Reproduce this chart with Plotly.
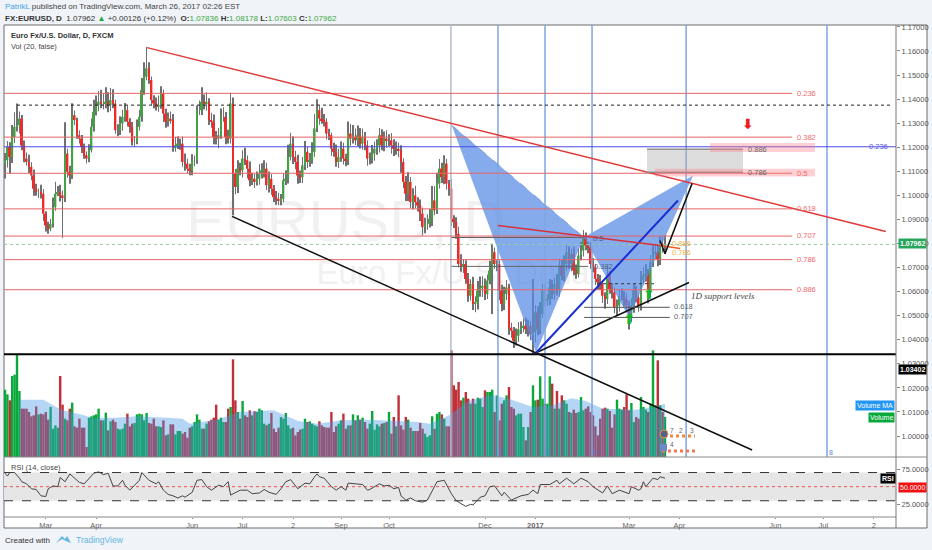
import plotly.graph_objects as go

# price data, one value per daily bar
closes = [
    1.1146, 1.1201, 1.1160, 1.1243, 1.1285, 1.1292, 1.1319, 1.1208, 1.1153, 1.1139,
    1.1118, 1.1083, 1.1028, 1.1014, 1.1014, 1.1007, 1.0924, 1.0875, 1.0861, 1.0882,
    1.0951, 1.1007, 1.1014, 1.1000, 1.0993, 1.1174, 1.1098, 1.1083, 1.1333, 1.1313,
    1.1250, 1.1236, 1.1201, 1.1167, 1.1153, 1.1188, 1.1285, 1.1347, 1.1375, 1.1389,
    1.1382, 1.1382, 1.1389, 1.1375, 1.1396, 1.1382, 1.1271, 1.1271, 1.1299, 1.1326,
    1.1354, 1.1306, 1.1285, 1.1222, 1.1222, 1.1285, 1.1326, 1.1438, 1.1493, 1.1528,
    1.1479, 1.1396, 1.1382, 1.1368, 1.1375, 1.1424, 1.1340, 1.1306, 1.1319, 1.1313,
    1.1201, 1.1208, 1.1215, 1.1215, 1.1139, 1.1132, 1.1111, 1.1104, 1.1146, 1.1146,
    1.1354, 1.1354, 1.1389, 1.1382, 1.1389, 1.1313, 1.1306, 1.1243, 1.1236, 1.1250,
    1.1326, 1.1326, 1.1243, 1.1236, 1.1382, 1.1090, 1.1035, 1.1111, 1.1104, 1.1153,
    1.1146, 1.1111, 1.1063, 1.1069, 1.1056, 1.1069, 1.1090, 1.1104, 1.1111, 1.1042,
    1.1069, 1.1028, 1.0993, 1.0986, 1.0979, 1.0986, 1.1063, 1.1069, 1.1160, 1.1215,
    1.1160, 1.1139, 1.1083, 1.1076, 1.1125, 1.1181, 1.1139, 1.1146, 1.1181, 1.1278,
    1.1354, 1.1319, 1.1313, 1.1306, 1.1257, 1.1250, 1.1194, 1.1181, 1.1139, 1.1160,
    1.1194, 1.1153, 1.1146, 1.1257, 1.1236, 1.1243, 1.1229, 1.1250, 1.1215, 1.1243,
    1.1208, 1.1153, 1.1153, 1.1174, 1.1194, 1.1208, 1.1250, 1.1208, 1.1236, 1.1229,
    1.1229, 1.1208, 1.1194, 1.1194, 1.1188, 1.1139, 1.1056, 1.1007, 1.1056, 1.0972,
    1.1000, 1.0972, 1.0958, 1.0924, 1.0868, 1.0882, 1.0882, 1.0903, 1.0979, 1.0938,
    1.1049, 1.1111, 1.1076, 1.1132, 1.1049, 1.1028, 1.0903, 1.0889, 1.0840, 1.0715,
    1.0708, 1.0715, 1.0653, 1.0583, 1.0632, 1.0549, 1.0556, 1.0604, 1.0618, 1.0625,
    1.0590, 1.0646, 1.0688, 1.0764, 1.0715, 1.0715, 1.0604, 1.0549, 1.0590, 1.0618,
    1.0451, 1.0438, 1.0396, 1.0417, 1.0444, 1.0451, 1.0458, 1.0444, 1.0458, 1.0424,
    1.0431, 1.0514, 1.0444, 1.0507, 1.0604, 1.0563, 1.0569, 1.0618, 1.0590, 1.0632,
    1.0604, 1.0708, 1.0667, 1.0715, 1.0764, 1.0715, 1.0757, 1.0688, 1.0674, 1.0750,
    1.0771, 1.0826, 1.0792, 1.0785, 1.0715, 1.0701, 1.0653, 1.0639, 1.0632, 1.0583,
    1.0569, 1.0667, 1.0611, 1.0597, 1.0535, 1.0542, 1.0583, 1.0583, 1.0569, 1.0542,
    1.0493, 1.0542, 1.0604, 1.0576, 1.0542, 1.0646, 1.0667, 1.0674, 1.0597, 1.0722,
    1.0757, 1.0764, 1.0736, 1.0799, 1.0792, 1.0796,
]
first_open = 1.1130
up_wicks = [
    30, 25, 20, 50, 60, 90, 30, 15, 20, 25, 30, 20, 25, 20, 15, 30, 20, 10, 15, 20,
    40, 50, 25, 30, 20, 130, 20, 25, 50, 20, 10, 20, 15, 15, 15, 25, 35, 50, 40, 45,
    50, 40, 60, 40, 50, 45, 15, 25, 30, 30, 30, 20, 15, 20, 25, 30, 30, 50, 60, 89,
    25, 15, 20, 25, 40, 30, 15, 20, 25, 30, 25, 35, 30, 20, 30, 35, 20, 20, 25, 20,
    20, 40, 60, 30, 40, 15, 30, 30, 25, 30, 35, 40, 20, 30, 45, 25, 20, 35, 25, 35,
    45, 20, 30, 25, 20, 30, 40, 30, 35, 25, 30, 20, 15, 25, 25, 20, 30, 35, 50, 45,
    30, 25, 30, 20, 35, 45, 20, 30, 40, 60, 45, 20, 45, 25, 15, 20, 10, 25, 30, 35,
    30, 25, 20, 50, 40, 50, 35, 40, 30, 35, 20, 20, 25, 35, 30, 25, 30, 25, 30, 35,
    25, 30, 25, 30, 25, 20, 15, 25, 40, 20, 30, 40, 20, 25, 25, 25, 40, 40, 60, 60,
    45, 40, 25, 35, 20, 15, 40, 15, 20, 30, 40, 20, 15, 25, 20, 30, 25, 40, 45, 40,
    30, 25, 40, 35, 20, 15, 15, 25, 30, 30, 15, 20, 15, 30, 30, 25, 30, 35, 25, 20,
    222, 30, 25, 50, 30, 25, 20, 35, 30, 25, 40, 30, 25, 35, 30, 25, 20, 30, 25, 30,
    35, 30, 20, 15, 20, 25, 15, 20, 30, 15, 15, 40, 20, 25, 20, 25, 25, 30, 20, 25,
    20, 30, 30, 20, 15, 40, 35, 40, 20, 30, 40, 35, 30, 30, 30, 38,
]
down_wicks = [
    60, 30, 70, 25, 25, 20, 35, 20, 15, 15, 25, 20, 30, 15, 25, 20, 30, 25, 20, 10,
    15, 15, 10, 25, 170, 20, 25, 35, 15, 20, 15, 20, 25, 15, 20, 15, 10, 20, 15, 25,
    20, 25, 20, 30, 25, 20, 15, 25, 20, 30, 20, 20, 25, 15, 20, 10, 15, 20, 20, 15,
    15, 20, 20, 15, 20, 15, 35, 25, 20, 15, 20, 20, 15, 25, 20, 30, 20, 20, 20, 25,
    15, 20, 20, 25, 30, 20, 25, 30, 25, 40, 15, 20, 30, 20, 20, 173, 30, 25, 20, 30,
    20, 40, 25, 20, 25, 15, 25, 20, 30, 20, 30, 25, 20, 25, 20, 20, 15, 20, 20, 15,
    30, 30, 35, 25, 25, 20, 25, 20, 15, 20, 15, 25, 15, 20, 25, 20, 30, 20, 20, 25,
    20, 25, 25, 20, 30, 20, 20, 25, 20, 25, 20, 30, 25, 20, 30, 25, 30, 20, 25, 30,
    25, 35, 30, 25, 30, 45, 25, 30, 30, 25, 30, 25, 25, 30, 35, 25, 25, 15, 30, 20,
    15, 20, 25, 30, 25, 30, 30, 25, 20, 15, 25, 30, 20, 25, 20, 25, 35, 30, 25, 40,
    25, 20, 15, 181, 20, 30, 40, 30, 25, 25, 30, 30, 30, 20, 25, 20, 20, 20, 30, 25,
    85, 40, 25, 20, 15, 25, 20, 25, 20, 25, 20, 25, 20, 25, 25, 20, 30, 20, 20, 15,
    20, 25, 20, 25, 20, 20, 25, 30, 25, 30, 40, 20, 20, 25, 25, 35, 25, 20, 30, 25,
    50, 20, 30, 20, 25, 20, 15, 25, 45, 20, 20, 20, 30, 25, 30, 35,
]
volumes = [
    202, 188, 170, 243, 247, 310, 198, 145, 145, 145, 135, 122, 125, 152, 128, 130, 128, 135, 112, 150,
    85, 95, 88, 243, 157, 115, 110, 145, 163, 92, 88, 115, 88, 88, 30, 118, 122, 125, 128, 145,
    110, 110, 133, 80, 107, 112, 105, 85, 82, 85, 100, 130, 92, 100, 102, 128, 130, 128, 110, 132,
    102, 100, 115, 92, 92, 90, 110, 65, 68, 98, 98, 68, 78, 78, 70, 75, 58, 88, 92, 105,
    128, 112, 85, 85, 100, 107, 112, 118, 157, 112, 118, 105, 105, 145, 150, 293, 170, 135, 115, 168,
    125, 120, 140, 125, 137, 135, 145, 140, 100, 95, 100, 132, 85, 75, 88, 120, 115, 132, 95, 85,
    88, 65, 75, 82, 85, 115, 105, 107, 100, 95, 92, 107, 95, 90, 88, 88, 135, 75, 92, 100,
    110, 130, 85, 95, 95, 128, 110, 125, 112, 118, 105, 85, 100, 138, 82, 98, 92, 100, 102, 105,
    135, 70, 120, 92, 185, 95, 82, 120, 112, 88, 78, 78, 78, 102, 85, 70, 60, 65, 122, 85,
    130, 135, 128, 115, 92, 92, 320, 215, 202, 225, 170, 178, 195, 175, 160, 175, 160, 178, 175, 150,
    200, 195, 195, 202, 135, 185, 110, 160, 170, 185, 210, 150, 145, 125, 130, 130, 90, 50, 90, 135,
    215, 170, 172, 242, 175, 160, 160, 242, 220, 145, 198, 145, 185, 170, 160, 135, 132, 142, 132, 135,
    180, 140, 145, 152, 135, 125, 92, 65, 115, 145, 148, 145, 138, 88, 128, 172, 145, 142, 150, 188,
    140, 162, 105, 120, 115, 180, 150, 142, 135, 160, 320, 155, 290, 155, 135, 120,
]
vol_ma_bars = [6, 16, 20, 24, 33, 36, 46, 55, 68, 74, 77, 88, 98, 112, 122, 130, 140, 152, 172, 177,
               185, 193, 203, 211, 220, 228, 236, 242, 249, 263, 270, 275]
vol_ma_values = [172, 172, 155, 140, 125, 118, 118, 122, 118, 115, 100, 112, 135, 140, 108, 100, 110, 112, 105, 100,
                 125, 168, 186, 172, 150, 155, 176, 168, 145, 142, 150, 160]
rsi_bars = [0, 1, 2, 4, 6, 7, 9, 11, 13, 15, 17, 18, 20, 22, 23, 25, 27, 29, 31, 33, 35, 37, 39, 41, 43, 45, 47,
            49, 50, 52, 54, 56, 57, 60, 63, 64, 66, 68, 70, 72, 74, 75, 78, 80, 82, 84, 86, 89, 91, 93, 94, 96, 98,
            101, 103, 106, 108, 110, 113, 115, 117, 119, 122, 125, 127, 129, 130, 131, 133, 136, 138, 140, 142,
            143, 145, 147, 149, 151, 152, 156, 158, 160, 162, 164, 165, 167, 169, 171, 174, 176, 178, 180, 183,
            186, 188, 192, 194, 195, 198, 200, 202, 204, 207, 208, 211, 215, 218, 220, 222, 223, 227, 230, 231,
            234, 237, 240, 243, 245, 249, 251, 253, 256, 260, 261, 264, 265, 266, 267, 270, 272, 273, 275]
rsi_values = [69, 65, 70, 70, 62, 57, 54, 47, 46, 37, 36, 47, 51, 50, 63, 57, 68, 62, 56, 54, 62, 69, 71, 67, 69, 51, 51,
              59, 52, 45, 52, 59, 70, 59, 54, 57, 45, 39, 37, 34, 37, 35, 42, 59, 60, 50, 45, 52, 50, 57, 38, 42, 45,
              45, 40, 41, 46, 42, 39, 47, 57, 60, 47, 55, 54, 64, 68, 64, 62, 50, 45, 50, 45,
              55, 54, 53, 53, 45, 46, 54, 51, 52, 47, 49, 37, 31, 34, 30, 28, 31, 45, 57, 59,
              40, 30, 22, 25, 24, 35, 37, 50, 51, 37, 42, 31, 37, 39, 45, 40, 53, 53, 59, 54,
              62, 54, 62, 57, 50, 41, 51, 40, 45, 40, 50, 45, 47, 57, 50, 62, 60, 64, 62]

# levels and labels
fib_levels = [1.1424, 1.1242, 1.1092, 1.0944, 1.0831, 1.0733, 1.0608]
fib_labels = ["0.236", "0.382", "0.5", "0.618", "0.707", "0.786", "0.886"]
time_tick_bars = [17, 38, 78, 99, 120, 140, 160, 200, 221, 260, 281, 321, 341, 362]
time_tick_labels = ["Mar", "Apr", "Jun", "Jul", "2", "Sep", "Oct", "Dec", "<b>2017</b>", "Mar", "Apr", "Jun", "Jul", "2"]
price_ticks = [1.00, 1.01, 1.02, 1.03, 1.04, 1.05, 1.06, 1.07, 1.08, 1.09, 1.10, 1.11, 1.12, 1.13, 1.14, 1.15, 1.16, 1.17]
time_lines = [185.8, 205.4, 225, 244.6, 283.8, 342.5]
pattern_xab_bars = [186.1, 221.3, 241.2, 186.1]
pattern_xab_prices = [1.1292, 1.0346, 1.0826, 1.1292]
pattern_bcd_bars = [241.2, 260, 286.7, 241.2]
pattern_bcd_prices = [1.0826, 1.0493, 1.1083, 1.0826]

FONT = "Liberation Sans"
RED = "#e66464"
X_MIN, X_MAX = -0.417, 371.25
Y_MIN, Y_MAX = 0.9913, 1.1708


def px(x):
    return (x - 4) / 892


def py(y):
    return (517 - y) / 492


opens = [first_open] + closes[:-1]
highs = [max(o, c) + u / 10000 for o, c, u in zip(opens, closes, up_wicks)]
lows = [min(o, c) - d / 10000 for o, c, d in zip(opens, closes, down_wicks)]
bars = list(range(len(closes)))
is_up = [c >= o for o, c in zip(opens, closes)]

fig = go.Figure()

# watermark sits on the volume axis, so it stays behind everything
fig.add_trace(go.Scatter(x=[142], y=[693], yaxis="y", mode="text", text=["EURUSD, D"], textposition="middle center",
                         textfont=dict(family=FONT, size=58, color="#f1f1f1"), hoverinfo="skip"))
fig.add_trace(go.Scatter(x=[189], y=[545], yaxis="y", mode="text", text=["Euro Fx/U.S. Dollar"], textposition="middle center",
                         textfont=dict(family=FONT, size=33, color="#f1f1f1"), hoverinfo="skip"))

# volume
fig.add_trace(go.Bar(x=bars, y=volumes, yaxis="y", width=1.0,
                     marker=dict(color=["#08a83a" if u else "#c03038" for u in is_up], line_width=0)))
fig.add_trace(go.Scatter(x=vol_ma_bars, y=vol_ma_values, yaxis="y", mode="lines", fill="tozeroy",
                         fillcolor="rgba(70,150,230,0.4)", line=dict(width=0), hoverinfo="skip"))

# candles: thin wick bar first, body bar on top
fig.add_trace(go.Bar(x=bars, y=[h - l for h, l in zip(highs, lows)], base=lows, yaxis="y2", width=0.3,
                     marker=dict(color="#707070", line_width=0)))
fig.add_trace(go.Bar(x=bars, y=[abs(c - o) for o, c in zip(opens, closes)], base=[min(o, c) for o, c in zip(opens, closes)],
                     yaxis="y2", width=0.8,
                     marker=dict(color=["#46a046" if u else "#ee2b2b" for u in is_up], line_width=0)))


def add_line(xs, ys, color, width=1, dash=None, axis="y2"):
    fig.add_trace(go.Scatter(x=xs, y=ys, yaxis=axis, mode="lines", hoverinfo="skip",
                             line=dict(color=color, width=width, dash=dash)))


# bat pattern
for xs, ys in [(pattern_xab_bars, pattern_xab_prices), (pattern_bcd_bars, pattern_bcd_prices)]:
    fig.add_trace(go.Scatter(x=xs, y=ys, yaxis="y2", mode="lines", fill="toself", fillcolor="rgba(88,138,230,0.72)",
                             line=dict(width=0), hoverinfo="skip"))

# fibonacci time lines
for i, t in enumerate(time_lines):
    add_line([t, t], [Y_MIN, Y_MAX], "#b4bccc" if i == 0 else "#7ea6e0", 1.5)

# fib levels
for lev in fib_levels:
    add_line([X_MIN, 328], [lev, lev], RED, 1)
add_line([X_MIN, X_MAX], [1.1202, 1.1202], "#4a4ae0", 1)
add_line([5, 370], [1.1375, 1.1375], "#222222", 1, "dot")
add_line([X_MIN, X_MAX], [1.07962, 1.07962], "#8fcf9f", 1, "dot")
add_line([X_MIN, X_MAX], [1.0340, 1.0340], "#000000", 2)

# drawn trend lines
add_line([59.2, 367], [1.1614, 1.0850], "#e03838", 1.5)
add_line([94.6, 311.3], [1.0913, 0.9942], "#111111", 1.5)
add_line([221.3, 285], [1.0346, 1.0638], "#111111", 1.5)
add_line([221.3, 280.4], [1.0346, 1.0979], "#1a2fd0", 2)
add_line([205.4, 273], [1.0875, 1.0792], "#d83038", 1.5)
add_line([273, 281.3], [1.0792, 1.0779], "#f05a20", 1.5)
add_line([272.9, 275, 286.3], [1.0813, 1.0758, 1.1050], "#111111", 1.5)
add_line([186.1, 241.2], [1.1292, 1.0826], "#6f8fc8", 0.8, "dash")
add_line([186, 241], [1.0825, 1.0825], "#666666", 1)
add_line([186, 243], [1.0705, 1.0705], "#666666", 1)
add_line([241.3, 277], [1.0535, 1.0535], "#555555", 1)
add_line([241.3, 277], [1.0493, 1.0493], "#555555", 1)
add_line([246.7, 271.6], [1.0633, 1.0633], "#333333", 1, "dot")
add_line([267.5, 307.5], [1.1192, 1.1192], "#8a8a8a", 1.5)
add_line([267.5, 307.5], [1.1096, 1.1096], "#8a8a8a", 1.5)

# arrows
fig.add_trace(go.Scatter(x=[260, 268.3], y=[1.0480, 1.0585], yaxis="y2", mode="text", text=["<b>⬆</b>", "<b>⬆</b>"], hoverinfo="skip",
                         textfont=dict(family="DejaVu Sans", size=14, color="#12b832")))
fig.add_trace(go.Scatter(x=[309.5], y=[1.1290], yaxis="y2", mode="text", text=["<b>⬇</b>"], hoverinfo="skip",
                         textfont=dict(family="DejaVu Sans", size=14, color="#f01818")))

# RSI pane
fig.add_trace(go.Scatter(x=[X_MIN, X_MAX], y=[70, 70], yaxis="y3", mode="lines", hoverinfo="skip",
                         line=dict(color="#333333", width=1, dash="dash")))
fig.add_trace(go.Scatter(x=[X_MIN, X_MAX], y=[30, 30], yaxis="y3", mode="lines", hoverinfo="skip", fill="tonexty",
                         fillcolor="#e6e6e6", line=dict(color="#333333", width=1, dash="dash")))
add_line([X_MIN, X_MAX], [50, 50], "#f03030", 0.8, "dot", "y3")
fig.add_trace(go.Scatter(x=rsi_bars, y=rsi_values, yaxis="y3", mode="lines", hoverinfo="skip",
                         line=dict(color="#444444", width=1)))

shapes = [
    # white card and pane frames
    dict(type="rect", xref="paper", yref="paper", x0=px(4), x1=px(927), y0=py(528), y1=py(25), layer="below",
         fillcolor="#ffffff", line=dict(color="#6d6d6d", width=1)),
    dict(type="line", xref="paper", yref="paper", x0=px(4), x1=px(927), y0=py(457), y1=py(457), line=dict(color="#888888", width=1)),
    dict(type="line", xref="paper", yref="paper", x0=px(4), x1=px(896), y0=py(517), y1=py(517), line=dict(color="#888888", width=1)),
    dict(type="line", xref="paper", yref="paper", x0=px(896), x1=px(896), y0=py(528), y1=py(25), line=dict(color="#777777", width=1)),
    # boxes around the reversal zone
    dict(type="rect", xref="x", yref="y2", x0=267.5, x1=307.5, y0=1.1096, y1=1.1192, fillcolor="rgba(175,175,175,0.42)", line_width=0),
    dict(type="rect", xref="x", yref="y2", x0=293.8, x1=337.5, y0=1.1180, y1=1.1218, fillcolor="rgba(255,120,130,0.35)", line_width=0),
    dict(type="rect", xref="x", yref="y2", x0=270.8, x1=337.5, y0=1.1079, y1=1.1111, fillcolor="rgba(255,120,130,0.35)", line_width=0),
    # event flags under the last bars
    dict(type="line", xref="paper", yref="paper", x0=px(670), x1=px(695), y0=py(436), y1=py(436), line=dict(color="#ee8a3a", width=3, dash="dot")),
    dict(type="line", xref="paper", yref="paper", x0=px(662), x1=px(695), y0=py(451), y1=py(451), line=dict(color="#f07a50", width=3, dash="dot")),
    dict(type="circle", xref="paper", yref="paper", x0=px(660), x1=px(668), y0=py(438), y1=py(430), fillcolor="#55608c", line=dict(color="#e09a4a", width=1)),
    dict(type="rect", xref="paper", yref="paper", x0=px(660), x1=px(667), y0=py(451), y1=py(444), fillcolor="#6f86c8", line_width=0),
    # logo
    dict(type="path", xref="paper", yref="paper",
         path=f"M {px(56)} {py(543)} L {px(62)} {py(536)} L {px(65)} {py(539)} L {px(67)} {py(536)} L {px(71)} {py(543)} L {px(66)} {py(541)} L {px(62)} {py(539)} Z",
         fillcolor="#62b6e4", line_width=0),
]


def note(x, y, text, color="#555555", size=8, xanchor="left", bg=None, refs=("paper", "paper"), **kw):
    return dict(x=x, y=y, xref=refs[0], yref=refs[1], text=text, showarrow=False, xanchor=xanchor, yanchor="middle",
                font=dict(family=kw.pop("family", FONT), size=size, color=color), bgcolor=bg, borderpad=kw.pop("pad", 0), **kw)


annotations = [
    note(px(4), py(7), '<span style="color:#42a5e8">PatrikL</span> published on TradingView.com, March 26, 2017 02:26 EST', "#444444", 8),
    note(px(4), py(18), '<b>FX:EURUSD, D</b>  1.07962 <span style="color:#1aa83c">▲</span> +0.00126 (+0.12%)  '
                        '<b>O:</b><span style="color:#3aa83c">1.07836</span> <b>H:</b><span style="color:#3aa83c">1.08178</span> '
                        '<b>L:</b><span style="color:#3aa83c">1.07603</span> <b>C:</b><span style="color:#3aa83c">1.07962</span>', "#333333", 8),
    note(px(10), py(36), "<b>Euro Fx/U.S. Dollar, D, FXCM</b>", "#333333", 7.5),
    note(px(10), py(46), "Vol (20, false)", "#444444", 7.5),
    note(px(10), py(467), "RSI (14, close)", "#444444", 7.5),
    note(px(4), py(540), "Created with", "#333333", 8),
    note(px(75), py(540), "TradingView", "#62b6e4", 8.5),
    # price tags
    note(px(912), py(244), "<b>1.07962</b>", "#ffffff", 7, "center", "#26a65b", pad=1),
    note(px(912), py(369.5), "<b>1.03402</b>", "#ffffff", 7, "center", "#000000", pad=1),
    note(px(912), py(487), "50.0000", "#ffffff", 7, "center", "#f01010", pad=1),
    note(px(888), py(478), "<b>RSI</b>", "#ffffff", 7, "center", "#000000", pad=1),
    note(px(875), py(405), "Volume MA", "#ffffff", 7, "center", "#2196f3", pad=1),
    note(px(881), py(417), "Volume", "#ffffff", 7, "center", "#08a83a", pad=1),
    # time line numbers and event flags
    note(px(500), py(452), "1", "#5a7fd0", 7, "center"),
    note(px(549), py(452), "2", "#5a7fd0", 7, "center"),
    note(px(594), py(452), "3", "#5a7fd0", 7, "center"),
    note(px(831), py(452), "8", "#5a7fd0", 7, "center"),
    note(px(672), py(430), "7", "#666666", 6.5, "center"),
    note(px(681), py(430), "2", "#666666", 6.5, "center"),
    note(px(692), py(430), "3", "#666666", 6.5, "center"),
    note(px(672), py(444), "4", "#666666", 6.5, "center"),
    # fib labels
    note(px(796), py(93.3), "0.236", "#f06a6a", 7.5),
    note(px(796), py(137), "0.382", "#f06a6a", 7.5),
    note(px(796), py(173), "0.5", "#f06a6a", 7.5),
    note(px(796), py(208.5), "0.618", "#f06a6a", 7.5),
    note(px(796), py(235.5), "0.707", "#f06a6a", 7.5),
    note(px(796), py(259), "0.786", "#f06a6a", 7.5),
    note(px(796), py(289), "0.886", "#f06a6a", 7.5),
    note(px(868), py(146.5), "0.236", "#5a5ae8", 7.5),
    note(px(747), py(149), "0.886", "#666666", 7.5),
    note(px(747), py(172), "0.786", "#666666", 7.5),
    note(px(592), py(238), "0.5", "#555f80", 7.5),
    note(px(593), py(266), "0.382", "#555f80", 7.5),
    note(px(673), py(306.7), "0.618", "#666666", 7.5),
    note(px(673), py(316.7), "0.707", "#666666", 7.5),
    note(px(671), py(244), "0.886", "#f0b040", 7.5),
    note(px(671), py(252), "0.786", "#f0b040", 7.5),
    note(px(690), py(296), "<i>1D support levels</i>", "#444444", 9, family="Liberation Serif"),
]

fig.update_layout(
    width=932, height=550, autosize=False,
    margin=dict(l=4, r=36, t=25, b=33, pad=0),
    paper_bgcolor="#f0f3f8", plot_bgcolor="rgba(0,0,0,0)",
    showlegend=False, barmode="overlay", hovermode=False,
    shapes=shapes, annotations=annotations,
    xaxis=dict(range=[X_MIN, X_MAX], anchor="y3", domain=[0, 1], showgrid=False, zeroline=False,
               tickmode="array", tickvals=time_tick_bars, ticktext=time_tick_labels, ticks="outside", ticklen=1,
               tickcolor="#888888", tickfont=dict(family=FONT, size=7.5, color="#666666")),
    yaxis=dict(range=[0, 1296], domain=[py(457), 1], anchor="x", visible=False, fixedrange=True),
    yaxis2=dict(range=[Y_MIN, Y_MAX], overlaying="y", side="right", anchor="x", showgrid=False, zeroline=False,
                tickmode="array", tickvals=price_ticks, tickformat=".5f", ticks="outside", ticklen=3,
                tickcolor="#888888", tickfont=dict(family=FONT, size=7.5, color="#555555")),
    yaxis3=dict(range=[7, 92], domain=[0, py(457)], side="right", anchor="x", showgrid=False, zeroline=False,
                tickmode="array", tickvals=[25, 75], tickformat=".4f", ticks="outside", ticklen=3,
                tickcolor="#888888", tickfont=dict(family=FONT, size=7.5, color="#555555")),
)

# the browser's default body margin would push the page off the window
fig.write_html("out.html", config={"displayModeBar": False},
               post_script="document.body.style.margin='0';document.body.style.overflow='hidden';")
